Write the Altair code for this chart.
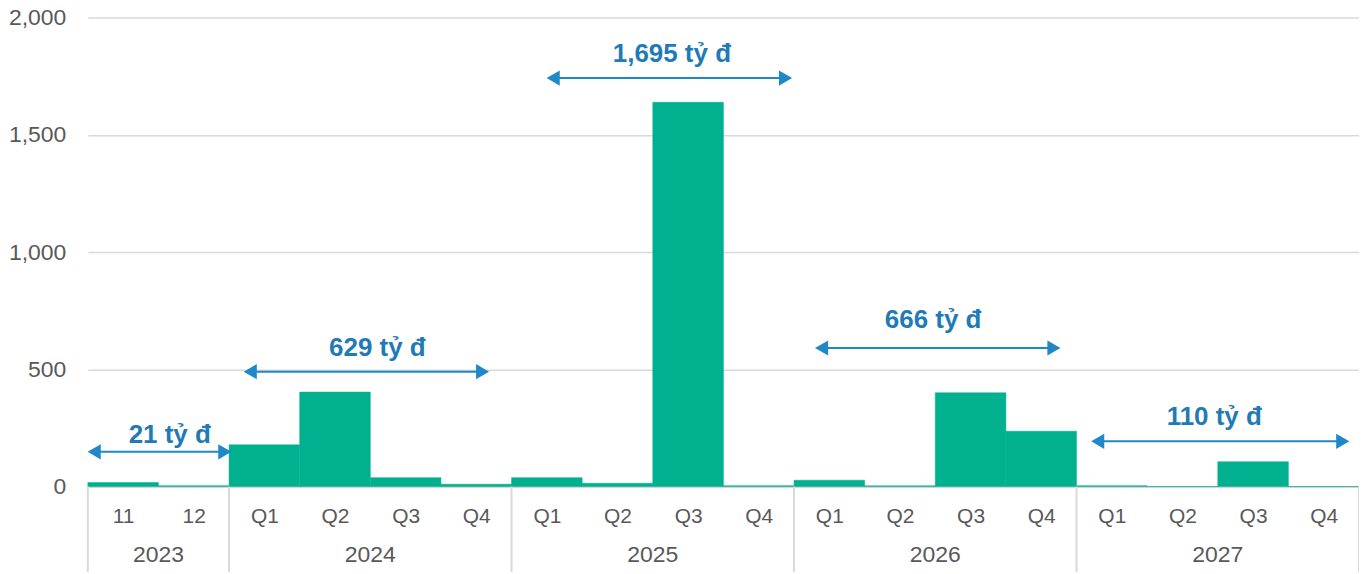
import altair as alt
import pandas as pd

# ---- data ----
periods = ["11", "12", "Q1", "Q2", "Q3", "Q4", "Q1", "Q2", "Q3", "Q4",
           "Q1", "Q2", "Q3", "Q4", "Q1", "Q2", "Q3", "Q4"]
period_years = ["2023", "2023"] + ["2024"] * 4 + ["2025"] * 4 + ["2026"] * 4 + ["2027"] * 4
values = [17, 4, 178, 403, 38, 10, 38, 14, 1639, 4, 27, 3, 400, 236, 4, 0, 106, 0]

years = ["2023", "2024", "2025", "2026", "2027"]
year_centers = [1, 4, 8, 12, 16]
year_bounds = [0, 2, 6, 10, 14, 18]

ann_labels = ["21 tỷ đ", "629 tỷ đ", "1,695 tỷ đ", "666 tỷ đ", "110 tỷ đ"]
ann_start = [0.09, 2.30, 6.59, 10.39, 14.30]
ann_end = [1.94, 5.59, 9.88, 13.68, 17.77]
ann_arrow_y = [148, 490, 1742, 591, 193]
ann_text_x = [1.16, 4.10, 8.27, 11.97, 15.95]
ann_text_y = [221, 590, 1843, 711, 296]

W, H = 1274, 470
FONT = "Liberation Sans"
GREY = "#595959"
LINE = "#d9d9d9"
BAR = "#00b08f"
BLUE_T = "#1f7bb6"
BLUE_A = "#2088c8"

bars_df = pd.DataFrame({
    "idx": list(range(len(values))),
    "idx2": [i + 1 for i in range(len(values))],
    "period": periods,
    "year": period_years,
    "value": values,
    "base": [0] * len(values),
})
years_df = pd.DataFrame({"year": years, "c": year_centers})
bounds_df = pd.DataFrame({"b": year_bounds})
ann_df = pd.DataFrame({
    "label": ann_labels,
    "x0": ann_start,
    "x1": ann_end,
    "xm": ann_text_x,
    "ya": ann_arrow_y,
    "yt": ann_text_y,
})

label_arr = "[" + ",".join("'%s'" % p for p in periods) + "]"

xscale = alt.Scale(domain=[0, 18], nice=False, zero=False)
yscale = alt.Scale(domain=[0, 2000], nice=False)

xaxis = alt.Axis(values=[i + 0.5 for i in range(18)],
                 labelExpr=label_arr + "[floor(datum.value)]",
                 title=None, ticks=False, grid=False,
                 domainColor=LINE, domainWidth=2,
                 labelColor=GREY, labelFont=FONT, labelFontSize=21,
                 labelBaseline="middle", labelPadding=30)
yaxis = alt.Axis(values=[0, 500, 1000, 1500, 2000],
                 labelExpr="format(datum.value, ',')",
                 title=None, ticks=False, domain=False,
                 gridColor=LINE, gridWidth=1.5,
                 labelColor=GREY, labelFont=FONT, labelFontSize=23,
                 labelPadding=22)

bars = alt.Chart(bars_df).mark_bar(color=BAR, stroke=BAR, strokeWidth=0.5).encode(
    x=alt.X("idx:Q", scale=xscale, axis=xaxis),
    x2="idx2:Q",
    y=alt.Y("value:Q", scale=yscale, axis=yaxis),
    y2="base:Q",
)

seps = alt.Chart(bounds_df).mark_rule(color=LINE, strokeWidth=2).encode(
    x=alt.X("b:Q", scale=xscale, axis=xaxis),
    y=alt.value(H),
    y2=alt.value(H + 88),
)

year_text = alt.Chart(years_df).mark_text(
    font=FONT, fontSize=23, color=GREY, baseline="middle"
).encode(
    x=alt.X("c:Q", scale=xscale, axis=xaxis),
    y=alt.value(H + 69),
    text="year:N",
)

arrow_line = alt.Chart(ann_df).mark_rule(color=BLUE_A, strokeWidth=2).encode(
    x=alt.X("x0:Q", scale=xscale, axis=xaxis),
    x2="x1:Q",
    y=alt.Y("ya:Q", scale=yscale, axis=yaxis),
)
head_l = alt.Chart(ann_df).mark_point(shape="triangle-left", filled=True, color=BLUE_A,
                                      size=230, opacity=1).encode(
    x=alt.X("x0:Q", scale=xscale, axis=xaxis),
    y=alt.Y("ya:Q", scale=yscale, axis=yaxis),
)
head_r = alt.Chart(ann_df).mark_point(shape="triangle-right", filled=True, color=BLUE_A,
                                      size=230, opacity=1).encode(
    x=alt.X("x1:Q", scale=xscale, axis=xaxis),
    y=alt.Y("ya:Q", scale=yscale, axis=yaxis),
)
ann_text = alt.Chart(ann_df).mark_text(
    font=FONT, fontSize=26, fontWeight="bold", color=BLUE_T, baseline="middle"
).encode(
    x=alt.X("xm:Q", scale=xscale, axis=xaxis),
    y=alt.Y("yt:Q", scale=yscale, axis=yaxis),
    text="label:N",
)

chart = alt.layer(bars, seps, year_text, arrow_line, head_l, head_r, ann_text).properties(
    width=W, height=H,
    autosize=alt.AutoSizeParams(type="none"),
    padding={"left": 80, "top": 9, "right": 0, "bottom": 85},
).configure_view(stroke=None)

chart.save("out.html", embed_options={"renderer": "svg", "actions": False})
